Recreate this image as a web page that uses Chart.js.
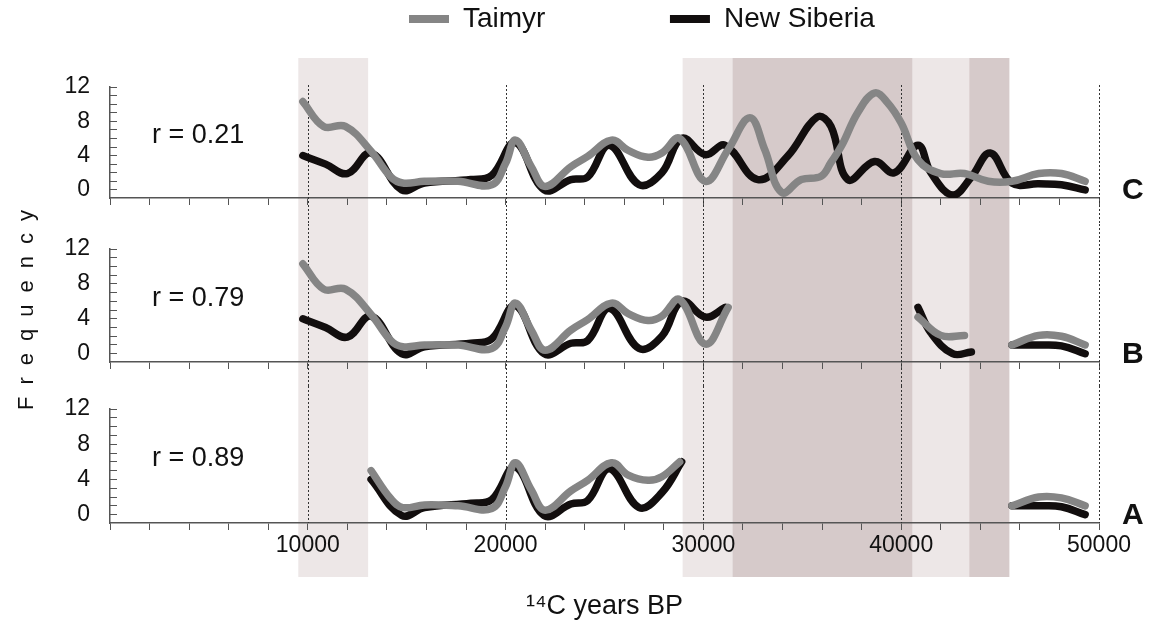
<!DOCTYPE html>
<html>
<head>
<meta charset="utf-8">
<script src="https://cdn.jsdelivr.net/npm/chart.js@4/dist/chart.umd.min.js"></script>
<style>
html, body { margin: 0; padding: 0; background: #ffffff; width: 1151px; height: 627px; overflow: hidden; }
.wrap { position: absolute; left: 0; width: 1151px; }
canvas { display: block; }
</style>
</head>
<body>
<div class="wrap" style="top:0px;height:239px"><canvas id="chartC"></canvas></div>
<div class="wrap" style="top:368px;height:259px"><canvas id="chartA"></canvas></div>
<div class="wrap" style="top:190px;height:230px"><canvas id="chartB"></canvas></div>
<script>
// ---------------- DATA ----------------
const seriesNames = ['Taimyr', 'New Siberia'];
const panelNames = ['C', 'B', 'A'];
const correlations = ['r = 0.21', 'r = 0.79', 'r = 0.89'];
const xTickValues = [10000, 20000, 30000, 40000, 50000];
const yTickValues = [0, 4, 8, 12];
const xAxisTitle = '\u00B9\u2074C years BP';
const yAxisTitle = 'Frequency';

// shaded periods (14C years BP)
const shadeStarts = [9520, 28950, 31470, 40580, 43440];
const shadeEnds   = [13050, 31470, 40580, 43440, 45470];
const shadeKinds  = ['light', 'light', 'dark', 'light', 'dark'];

const taimyrYears = [9750, 10800, 11900, 13200, 14200, 14800, 15900, 17600, 19300, 20000,
  20500, 21300, 22000, 23300, 24150, 25350, 26200, 27200, 27900, 28800,
  30100, 31250, 32350, 33100, 33950, 34950, 35950, 36450, 37000, 37800,
  38650, 39300, 40000, 40850, 42000, 43200, 44400, 45600, 46950, 48100, 49300];

const newSiberiaYears = [9750, 10900, 12000, 13200, 14750, 15900, 18250, 19300, 20500, 21950,
  23300, 24150, 25250, 26750, 27900, 28900, 30100, 31100, 32750, 34250,
  35750, 36450, 37300, 38650, 39650, 40850, 41500, 42600, 43550, 44500,
  45600, 46950, 48100, 49300];

const taimyrC = [10.3, 7.4, 7.4, 4.5, 1.5, 0.8, 1.0, 1.0, 0.6, 3.1,
  5.8, 2.7, 0.4, 2.7, 3.9, 5.8, 4.6, 3.8, 4.3, 6.0,
  1.0, 4.7, 8.4, 4.7, -0.3, 1.2, 1.6, 3.2, 5.2, 9.0,
  11.3, 10.2, 7.8, 3.5, 1.9, 1.9, 1.0, 1.0, 1.9, 1.9, 1.0];

const newSiberiaC = [4.0, 3.0, 1.9, 4.3, 0.0, 0.8, 1.2, 1.7, 5.5, 0.0,
  1.2, 1.5, 5.2, 0.6, 2.0, 6.0, 4.1, 5.2, 1.2, 3.9,
  8.5, 7.4, 1.2, 3.3, 2.0, 5.2, 2.0, -0.6, 1.5, 4.3,
  0.8, 0.7, 0.6, 0.0];

const taimyrB = [10.3, 7.4, 7.4, 4.5, 1.5, 0.8, 1.0, 1.0, 0.6, 3.1,
  5.8, 2.7, 0.4, 2.7, 3.9, 5.8, 4.6, 3.8, 4.3, 6.2,
  1.1, 5.3, null, null, null, null, null, null, null, null,
  null, null, null, 4.2, 2.1, 2.1, null, 1.0, 2.1, 2.0, 1.0];

const newSiberiaB = [4.0, 3.0, 1.9, 4.3, 0.0, 0.8, 1.2, 1.7, 5.5, 0.0,
  1.2, 1.5, 5.2, 0.6, 2.0, 6.0, 4.2, 5.3, null, null,
  null, null, null, null, null, 5.3, 2.4, 0.0, 0.2, null,
  1.0, 1.0, 0.9, 0.0];

const taimyrA = [null, null, null, 5.0, 1.8, 0.8, 1.1, 1.0, 0.7, 3.2,
  5.9, 2.8, 0.5, 2.7, 3.9, 5.9, 4.5, 3.9, 4.3, 6.0,
  null, null, null, null, null, null, null, null, null, null,
  null, null, null, null, null, null, null, 1.0, 2.0, 1.9, 1.0];

const newSiberiaA = [null, null, null, 4.0, -0.1, 0.8, 1.3, 1.7, 5.4, -0.1,
  1.2, 1.6, 5.2, 0.8, 2.5, 6.0, null, null, null, null,
  null, null, null, null, null, null, null, null, null, null,
  1.0, 1.0, 0.9, 0.0];

// ---------------- STYLE ----------------
const FONT = "'Liberation Sans', Arial, Helvetica, sans-serif";
const GRAY = '#858585';
const BLACK = '#120e0e';
const AXIS = '#555555';
const TEXT = '#111111';
const SHADE = { light: '#ede7e7', dark: '#d6caca' };

const pts = (xs, ys) => xs.map((x, i) => ({ x: x, y: ys[i] }));

function makeDatasets(tY, nY) {
  const common = { borderWidth: 7.5, pointRadius: 0, pointHoverRadius: 0, tension: 0.4,
    borderCapStyle: 'round', borderJoinStyle: 'round', spanGaps: false, fill: false };
  return [
    Object.assign({ label: seriesNames[0], data: pts(taimyrYears, tY), borderColor: GRAY, backgroundColor: GRAY }, common),
    Object.assign({ label: seriesNames[1], data: pts(newSiberiaYears, nY), borderColor: BLACK, backgroundColor: BLACK }, common)
  ];
}

function panelPlugin(cfg) {
  return {
    id: 'panel' + cfg.index,
    afterLayout(chart) {
      const lg = chart.legend;
      if (cfg.legend && lg) {
        const pad = lg.options.labels.padding;
        const w = lg.right - lg.left;
        lg.left = 409 - pad; lg.right = lg.left + w;
        lg.top = 19 - pad - 14;
      }
    },
    beforeDraw(chart) {
      const ctx = chart.ctx, xs = chart.scales.x, off = cfg.pageTop;
      const y0 = Math.max(cfg.slot[0], 58) - off;
      const y1 = Math.min(cfg.slot[1], 577) - off;
      if (y1 <= y0) return;
      ctx.save();
      shadeStarts.forEach((s, i) => {
        const a = xs.getPixelForValue(s), b = xs.getPixelForValue(shadeEnds[i]);
        ctx.fillStyle = SHADE[shadeKinds[i]];
        ctx.fillRect(a, y0, b - a, y1 - y0);
      });
      ctx.restore();
    },
    beforeDatasetsDraw(chart) {
      const ctx = chart.ctx, xs = chart.scales.x, off = cfg.pageTop;
      const y0 = Math.max(cfg.slot[0], 85) - off;
      const y1 = Math.min(cfg.slot[1], 523) - off;
      if (y1 <= y0) return;
      ctx.save();
      ctx.strokeStyle = '#333333';
      ctx.lineWidth = 1;
      ctx.setLineDash([2, 2]);
      xTickValues.forEach(v => {
        const px = Math.round(xs.getPixelForValue(v)) + 0.5;
        ctx.beginPath(); ctx.moveTo(px, y0); ctx.lineTo(px, y1); ctx.stroke();
      });
      ctx.restore();
    },
    afterDraw(chart) {
      const ctx = chart.ctx, xs = chart.scales.x, ys = chart.scales.y;
      ctx.save();
      ctx.fillStyle = TEXT;
      ctx.textBaseline = 'alphabetic';
      ctx.textAlign = 'left';
      ctx.font = '27px ' + FONT;
      ctx.fillText(correlations[cfg.index], xs.getPixelForValue(2120), ys.getPixelForValue(5.5));
      ctx.font = 'bold 30px ' + FONT;
      ctx.fillText(panelNames[cfg.index], 1122, chart.chartArea.bottom + 1);
      if (cfg.yTitle) {
        ctx.translate(33, 310 - cfg.pageTop);
        ctx.rotate(-Math.PI / 2);
        ctx.font = '22px ' + FONT;
        if ('letterSpacing' in ctx) {
          ctx.letterSpacing = '12px';
          ctx.textAlign = 'center';
          ctx.fillText(yAxisTitle, 6, 0);
        } else {
          const sp = 12;
          const widths = [...yAxisTitle].map(c => ctx.measureText(c).width);
          const total = widths.reduce((a, b) => a + b, 0) + sp * (widths.length - 1);
          let x = -total / 2;
          [...yAxisTitle].forEach((c, i) => { ctx.fillText(c, x, 0); x += widths[i] + sp; });
        }
      }
      ctx.restore();
    }
  };
}

function makeChart(canvasId, cfg, tY, nY) {
  const xOpts = {
    type: 'linear', min: 0, max: 50000,
    afterFit: s => { s.height = cfg.xHeight; },
    ticks: {
      stepSize: 2000, autoSkip: false, maxRotation: 0, minRotation: 0, padding: 2,
      color: TEXT, font: { size: 23, family: FONT },
      callback: v => (cfg.showX && xTickValues.includes(v)) ? String(v) : ''
    },
    grid: { drawOnChartArea: false, drawTicks: true, tickLength: 7, tickColor: AXIS, tickWidth: 1 },
    border: { display: true, color: AXIS, width: 1.5 },
    title: cfg.showX ? { display: true, text: xAxisTitle, color: TEXT, font: { size: 27, family: FONT }, padding: { top: 0, bottom: 4 } } : { display: false }
  };
  const yOpts = {
    type: 'linear', min: -0.95, max: 12,
    afterFit: s => { s.width = 110; },
    ticks: {
      stepSize: 1, includeBounds: false, autoSkip: false, padding: 27,
      color: TEXT, font: { size: 23, family: FONT },
      callback: v => yTickValues.includes(v) ? String(v) : ''
    },
    grid: { drawOnChartArea: false, drawTicks: true, tickLength: -7, tickColor: AXIS, tickWidth: 1 },
    border: { display: true, color: AXIS, width: 1.5 }
  };
  return new Chart(document.getElementById(canvasId), {
    type: 'line',
    data: { datasets: makeDatasets(tY, nY) },
    options: {
      responsive: true, maintainAspectRatio: false, animation: false,
      events: [],
      layout: { padding: { left: 0, right: 52, top: cfg.padTop, bottom: 0 } },
      plugins: {
        tooltip: { enabled: false },
        legend: cfg.legend ? {
          display: true, position: 'top', align: 'start', maxHeight: 87,
          labels: {
            boxWidth: 40, boxHeight: 8, padding: 124.5, color: TEXT,
            font: { size: 28, family: FONT },
            generateLabels: ch => Chart.defaults.plugins.legend.labels.generateLabels(ch)
              .map(l => Object.assign({}, l, { fillStyle: l.strokeStyle, lineWidth: 0 }))
          }
        } : { display: false }
      },
      scales: { x: xOpts, y: yOpts }
    },
    plugins: [panelPlugin(cfg)]
  });
}

makeChart('chartC', { index: 0, pageTop: 0, slot: [0, 224], padTop: 0, xHeight: 41, showX: false, legend: true }, taimyrC, newSiberiaC);
makeChart('chartA', { index: 2, pageTop: 368, slot: [386, 627], padTop: 41, xHeight: 104, showX: true, legend: false }, taimyrA, newSiberiaA);
makeChart('chartB', { index: 1, pageTop: 190, slot: [224, 386], padTop: 59, xHeight: 58, showX: false, legend: false, yTitle: true }, taimyrB, newSiberiaB);
</script>
</body>
</html>
